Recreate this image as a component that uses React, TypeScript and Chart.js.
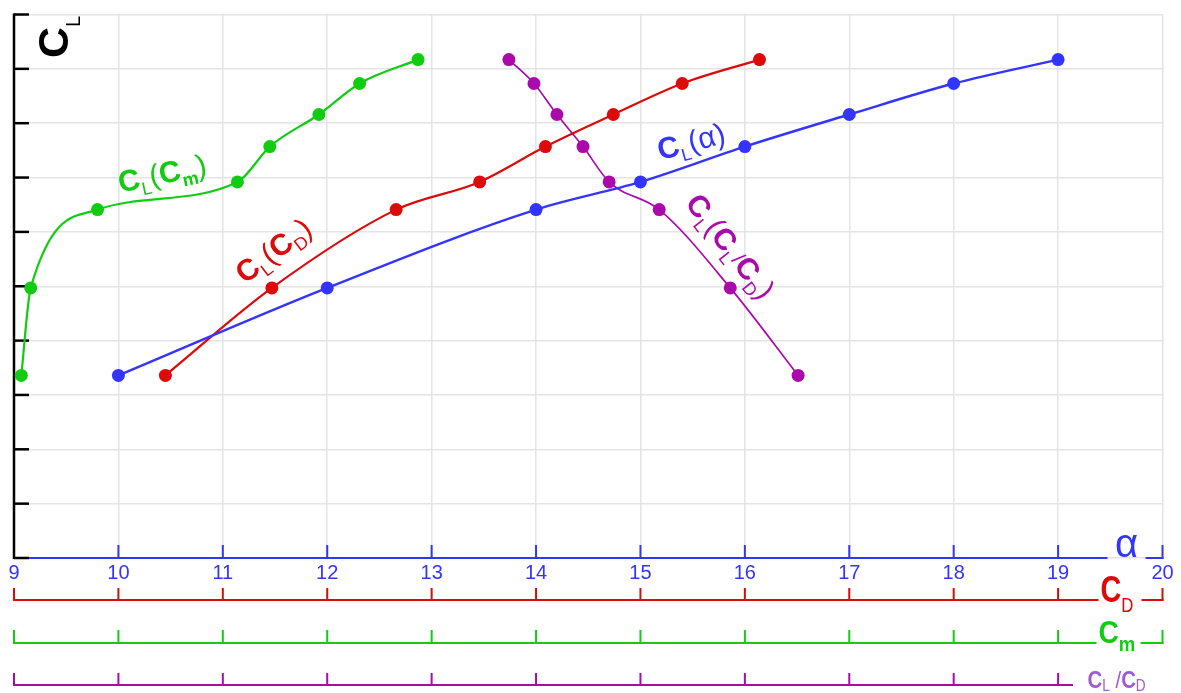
import React, { useEffect, useRef } from "react";
import { Chart, registerables } from "chart.js";

Chart.register(...registerables);

// Lift coefficient levels (same for every curve)
const clValues = [3.36, 4.97, 6.41, 6.92, 7.57, 8.16, 8.73, 9.17];
// Angle of attack for each CL level
const alphaValues = [10, 12, 14, 15, 16, 17, 18, 19];
// Positions on the unlabeled CD, Cm and CL/CD axes (axis divisions from the left end)
const cdValues = [1.45, 2.47, 3.66, 4.46, 5.09, 5.74, 6.4, 7.14];
const cmValues = [0.07, 0.16, 0.8, 2.14, 2.45, 2.92, 3.31, 3.87];
const clcdValues = [7.51, 6.86, 6.18, 5.7, 5.45, 5.2, 4.98, 4.74];
// Tick labels
const alphaTicks = [9, 10, 11, 12, 13, 14, 15, 16, 17, 18, 19, 20];
const clTicks = [0, 1, 2, 3, 4, 5, 6, 7, 8, 9, 10];
const cdTicks = [0, 1, 2, 3, 4, 5, 6, 7, 8, 9, 10, 11];
const cmTicks = [0, 1, 2, 3, 4, 5, 6, 7, 8, 9, 10, 11];
const clcdTicks = [0, 1, 2, 3, 4, 5, 6, 7, 8, 9, 10];

const BLUE = "#3434ff";
const RED = "#dd0a0a";
const GREEN = "#12cc12";
const PURPLE = "#aa0aaa";
const LILAC = "#a05ad2";
const FONT = '"Liberation Sans", Arial, sans-serif';

type Part = { t: string; size: number; bold?: boolean; dy?: number; family?: string };

function partFont(p: Part) {
  return `${p.bold ? "bold " : ""}${p.size}px ${p.family || FONT}`;
}

function drawParts(
  ctx: CanvasRenderingContext2D,
  parts: Part[],
  x: number,
  y: number,
  angleDeg: number,
  color: string,
  align: "center" | "left" = "center",
  sx = 1
) {
  ctx.save();
  ctx.translate(x, y);
  ctx.rotate((angleDeg * Math.PI) / 180);
  ctx.scale(sx, 1);
  ctx.fillStyle = color;
  ctx.textBaseline = "alphabetic";
  ctx.textAlign = "left";
  let w = 0;
  const ws = parts.map((p) => {
    ctx.font = partFont(p);
    const m = ctx.measureText(p.t).width;
    w += m;
    return m;
  });
  let cx = align === "center" ? -w / 2 : 0;
  const base = align === "center" ? parts[0].size * 0.36 : 0;
  parts.forEach((p, i) => {
    ctx.font = partFont(p);
    ctx.fillText(p.t, cx, base + (p.dy || 0));
    cx += ws[i];
  });
  ctx.restore();
}

const axesPlugin = {
  id: "customAxes",
  beforeDatasetsDraw(chart: any) {
    const ctx: CanvasRenderingContext2D = chart.ctx;
    const ca = chart.chartArea;
    const xs = chart.scales.x;
    const ys = chart.scales.y;
    const line = (x1: number, y1: number, x2: number, y2: number) => {
      ctx.beginPath();
      ctx.moveTo(x1, y1);
      ctx.lineTo(x2, y2);
      ctx.stroke();
    };
    ctx.save();
    ctx.lineCap = "butt";

    // alpha axis (blue)
    const yA = ca.bottom;
    ctx.strokeStyle = BLUE;
    ctx.lineWidth = 2;
    line(ca.left, yA, ca.right - 55, yA);
    line(ca.right - 17, yA, ca.right + 1, yA);
    alphaTicks.forEach((v) => {
      if (v === 9) return;
      const px = xs.getPixelForValue(v);
      line(px, yA - 13, px, yA + 1);
    });

    // CD axis (red)
    const sCD = chart.scales.xCD;
    const yD = ca.bottom + 42;
    ctx.strokeStyle = RED;
    line(ca.left - 1, yD, ca.right - 64, yD);
    line(ca.right - 21, yD, ca.right + 1, yD);
    cdTicks.forEach((v) => {
      const px = sCD.getPixelForValue(v);
      line(px, yD - 12, px, yD + 1);
    });

    // Cm axis (green)
    const sCm = chart.scales.xCm;
    const yM = ca.bottom + 85;
    ctx.strokeStyle = GREEN;
    line(ca.left - 1, yM, ca.right - 66, yM);
    line(ca.right - 22, yM, ca.right + 1, yM);
    cmTicks.forEach((v) => {
      const px = sCm.getPixelForValue(v);
      line(px, yM - 13, px, yM + 1);
    });

    // CL/CD axis (purple)
    const sLD = chart.scales.xCLCD;
    const yL = ca.bottom + 127;
    ctx.strokeStyle = PURPLE;
    line(ca.left - 1, yL, ca.left + 1059, yL);
    clcdTicks.forEach((v) => {
      const px = sLD.getPixelForValue(v);
      line(px, yL - 12, px, yL + 1);
    });

    // CL axis (black)
    ctx.strokeStyle = "#000";
    ctx.lineWidth = 2.5;
    line(ca.left, ca.top - 1, ca.left, ca.bottom + 1);
    clTicks.forEach((v) => {
      const py = ys.getPixelForValue(v);
      line(ca.left, py, ca.left + 15, py);
    });
    ctx.restore();
  },
  afterDatasetsDraw(chart: any) {
    const ctx: CanvasRenderingContext2D = chart.ctx;
    const ca = chart.chartArea;

    // axis titles
    ctx.save();
    ctx.rotate(-Math.PI / 2);
    ctx.fillStyle = "#000";
    ctx.textBaseline = "alphabetic";
    ctx.font = `bold 43px ${FONT}`;
    ctx.fillText("C", -58, 68);
    ctx.font = `20px ${FONT}`;
    ctx.fillText("L", -27, 80);
    ctx.restore();

    ctx.save();
    ctx.fillStyle = BLUE;
    ctx.font = `40px ${FONT}`;
    ctx.textAlign = "center";
    ctx.textBaseline = "alphabetic";
    ctx.fillText("α", ca.right - 36, ca.bottom - 1);
    ctx.restore();

    drawParts(ctx, [
      { t: "C", size: 36, bold: true },
      { t: "D", size: 21, dy: 10 },
    ], ca.right - 62, ca.bottom + 44, 0, RED, "left", 0.8);

    drawParts(ctx, [
      { t: "C", size: 32, bold: true },
      { t: "m", size: 21, bold: true, dy: 8 },
    ], ca.right - 64, ca.bottom + 85, 0, GREEN, "left", 0.88);

    drawParts(ctx, [
      { t: "C", size: 24, bold: true },
      { t: "L", size: 16, dy: 3 },
      { t: " /", size: 24 },
      { t: "C", size: 24, bold: true },
      { t: "D", size: 16, dy: 3 },
    ], ca.right - 75, ca.bottom + 130, 0, LILAC, "left", 0.85);

    // curve labels
    drawParts(ctx, [
      { t: "C", size: 30, bold: true },
      { t: "L", size: 18, dy: 7 },
      { t: "(", size: 30 },
      { t: "C", size: 30, bold: true },
      { t: "m", size: 18, bold: true, dy: 7 },
      { t: ")", size: 30 },
    ], 162, 173, -12, GREEN);

    drawParts(ctx, [
      { t: "C", size: 30, bold: true },
      { t: "L", size: 18, dy: 7 },
      { t: "(", size: 30 },
      { t: "C", size: 30, bold: true },
      { t: "D", size: 18, dy: 7 },
      { t: ")", size: 30 },
    ], 273, 250, -37, RED);

    drawParts(ctx, [
      { t: "C", size: 30, bold: true },
      { t: "L", size: 18, dy: 7 },
      { t: "(", size: 30 },
      { t: "α", size: 30 },
      { t: ")", size: 30 },
    ], 691, 141, -15, BLUE);

    drawParts(ctx, [
      { t: "C", size: 30, bold: true },
      { t: "L", size: 18, dy: 7 },
      { t: "(", size: 30 },
      { t: "C", size: 30, bold: true },
      { t: "L", size: 18, dy: 7 },
      { t: "/", size: 21, dy: -2 },
      { t: "C", size: 30, bold: true },
      { t: "D", size: 18, dy: 7 },
      { t: ")", size: 30 },
    ], 731, 246, 52, PURPLE);
  },
};

function pairs(xs: number[], ys: number[]) {
  return xs.map((x, i) => ({ x, y: ys[i] })).sort((a, b) => a.x - b.x);
}

export default function App() {
  const ref = useRef<HTMLCanvasElement | null>(null);
  useEffect(() => {
    if (!ref.current) return;
    const mk = (label: string, data: any[], color: string, axis: string, width: number) => ({
      label,
      data,
      xAxisID: axis,
      yAxisID: "y",
      borderColor: color,
      backgroundColor: color,
      pointBackgroundColor: color,
      pointBorderWidth: 0,
      pointRadius: 6.5,
      borderWidth: width,
      cubicInterpolationMode: "monotone" as const,
      fill: false,
      clip: false as any,
    });
    const chart = new Chart(ref.current, {
      type: "line",
      data: {
        datasets: [
          mk("CL(α)", pairs(alphaValues, clValues), BLUE, "x", 2.4),
          mk("CL(CD)", pairs(cdValues, clValues), RED, "xCD", 2.2),
          mk("CL(Cm)", pairs(cmValues, clValues), GREEN, "xCm", 2.2),
          mk("CL(CL/CD)", pairs(clcdValues, clValues), PURPLE, "xCLCD", 1.7),
        ],
      },
      options: {
        animation: false,
        responsive: true,
        maintainAspectRatio: false,
        layout: { padding: { left: 14, top: 14.5, right: 18.5, bottom: 0 } },
        plugins: { legend: { display: false }, tooltip: { enabled: false } },
        scales: {
          x: {
            type: "linear",
            position: "bottom",
            min: 9,
            max: 20,
            afterFit: (s: any) => {
              s.height = 135;
            },
            afterBuildTicks: (s: any) => {
              s.ticks = alphaTicks.map((v) => ({ value: v }));
            },
            grid: { color: "#e4e4e4", lineWidth: 1.5, drawTicks: false },
            border: { display: false },
            ticks: {
              color: BLUE,
              font: { family: FONT, size: 20 },
              padding: 3,
              maxRotation: 0,
              autoSkip: false,
            },
          },
          xCD: { type: "linear", display: false, min: 0, max: 11 },
          xCm: { type: "linear", display: false, min: 0, max: 11 },
          xCLCD: { type: "linear", display: false, min: 0, max: 11 },
          y: {
            type: "linear",
            min: 0,
            max: 10,
            afterFit: (s: any) => {
              s.width = 0;
            },
            afterBuildTicks: (s: any) => {
              s.ticks = clTicks.map((v) => ({ value: v }));
            },
            ticks: { display: false },
            grid: { color: "#e4e4e4", lineWidth: 1.5, drawTicks: false },
            border: { display: false },
          },
        },
      },
      plugins: [axesPlugin],
    });
    return () => chart.destroy();
  }, []);
  return (
    <div style={{ position: "absolute", left: 0, top: 0, width: 1181, height: 693, background: "#fff" }}>
      <canvas ref={ref} />
    </div>
  );
}
